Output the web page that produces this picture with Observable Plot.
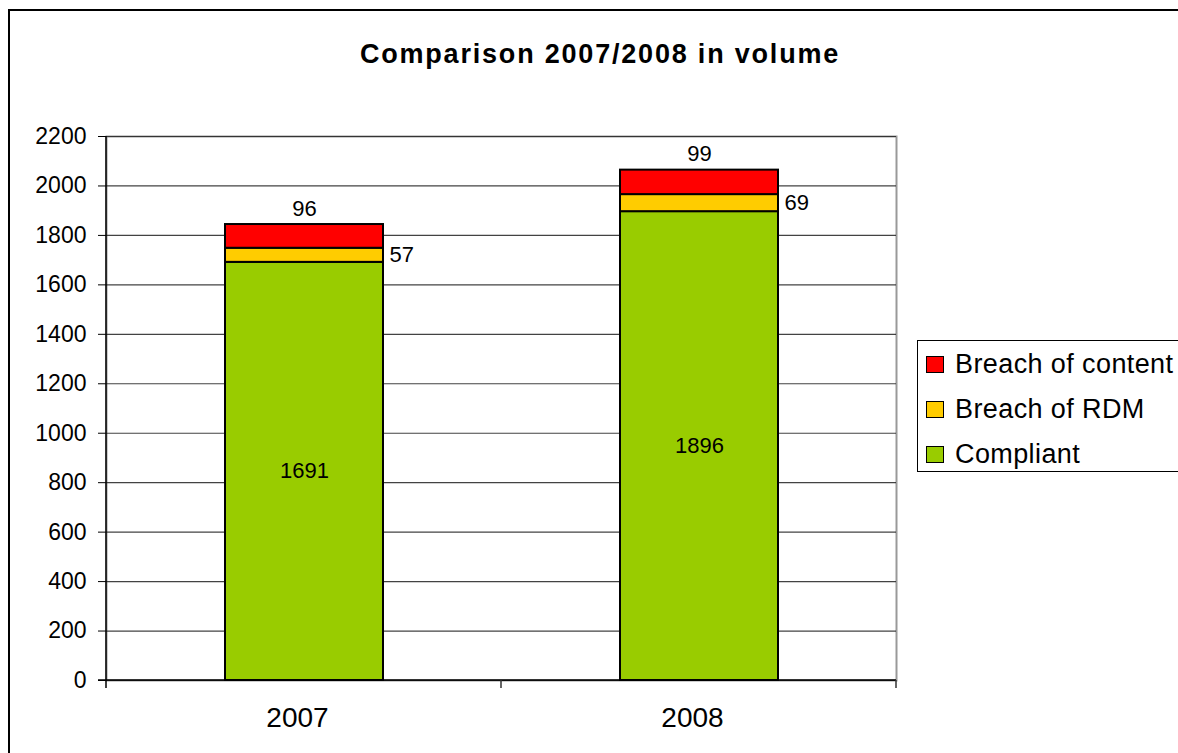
<!DOCTYPE html>
<html>
<head>
<meta charset="utf-8">
<script src="https://cdn.jsdelivr.net/npm/d3@7"></script>
<script src="https://cdn.jsdelivr.net/npm/@observablehq/plot@0.6"></script>
<style>
  html, body { margin: 0; padding: 0; background: #fff; overflow: hidden; }
  #chart { position: relative; width: 1178px; height: 753px; font-family: "Liberation Sans", Arial, sans-serif; }
  #title { position: absolute; left: 20px; width: 1160px; top: 41px; line-height: 27px; text-align: center; font-size: 27px; font-weight: bold; letter-spacing: 1.8px; color: #000; }
  #plot { position: absolute; left: 0; top: 0; }
  #legend { position: absolute; left: 917px; top: 340px; width: 261px; height: 132px; box-sizing: border-box; border: 1.5px solid #000; border-right: none; background: #fff; overflow: hidden; }
  .item { position: absolute; left: 8px; height: 30px; display: flex; align-items: center; font-size: 27px; letter-spacing: 0.4px; color: #000; white-space: nowrap; }
  .swatch { width: 16px; height: 15px; border: 1.5px solid #000; margin-right: 11px; }
</style>
</head>
<body>
<div id="chart">
  <div id="plot"></div>
  <div id="title">Comparison 2007/2008 in volume</div>
  <div id="legend"></div>
</div>
<script>
// Categories and stacked series (bottom to top)
const years = ["2007", "2008"];
const series = ["Compliant", "Breach of RDM", "Breach of content"];
const colors = ["#99CC00", "#FFCC00", "#FF0000"];
const compliant = [1691, 1896];
const breachRDM = [57, 69];
const breachContent = [96, 99];
const yTicks = [0, 200, 400, 600, 800, 1000, 1200, 1400, 1600, 1800, 2000, 2200];

// Layout
const W = 1178, H = 753;
const mL = 106, mR = 282, mT = 136, mB = 73;
const plotW = W - mL - mR;
const step = plotW / years.length;
const padInner = 0.6;
const bandW = step * (1 - padInner);

// Stacked rows built from the series arrays
const valuesBySeries = [compliant, breachRDM, breachContent];
const rows = [];
years.forEach((year, i) => {
  let base = 0;
  series.forEach((s, j) => {
    const v = valuesBySeries[j][i];
    rows.push({year, series: s, value: v, y1: base, y2: base + v, mid: base + v / 2});
    base += v;
  });
});

// Chart-area edge, axis lines and between-category ticks
function axisLines() {
  const g = d3.create("svg:g");
  g.append("path")
    .attr("d", `M9,${H}V10H${W}`)
    .attr("fill", "none").attr("stroke", "#000").attr("stroke-width", 2);
  g.append("line")
    .attr("x1", mL).attr("x2", mL)
    .attr("y1", mT).attr("y2", H - mB + 8)
    .attr("stroke", "#000").attr("stroke-width", 1.5);
  g.append("line")
    .attr("x1", mL - 8).attr("x2", W - mR)
    .attr("y1", H - mB).attr("y2", H - mB)
    .attr("stroke", "#000").attr("stroke-width", 1.5);
  for (let k = 1; k <= years.length; k++) {
    const x = mL + k * step;
    g.append("line")
      .attr("x1", x).attr("x2", x)
      .attr("y1", H - mB).attr("y2", H - mB + 8)
      .attr("stroke", "#333").attr("stroke-width", 1.5);
  }
  return g.node();
}

const chart = Plot.plot({
  width: W,
  height: H,
  marginLeft: mL,
  marginRight: mR,
  marginTop: mT,
  marginBottom: mB,
  style: {fontFamily: "'Liberation Sans', Arial, sans-serif", color: "#000", background: "transparent"},
  x: {domain: years, paddingInner: padInner, paddingOuter: padInner / 2},
  y: {domain: [0, 2200]},
  color: {domain: series, range: colors},
  marks: [
    Plot.frame({stroke: "#999", strokeWidth: 2}),
    Plot.gridY(yTicks, {stroke: "#222", strokeOpacity: 0.85, strokeWidth: 1.2}),
    Plot.axisY(yTicks, {tickSize: 8, tickPadding: 12, fontSize: 23, tickFormat: d => String(d), label: null, style: {letterSpacing: "1px"}}),
    Plot.axisX({tickSize: 0, tickPadding: 27, fontSize: 28, label: null, dx: -7, style: {letterSpacing: "1.2px"}}),
    Plot.barY(rows, {x: "year", y1: "y1", y2: "y2", fill: "series", stroke: "#000", strokeWidth: 2}),
    axisLines,
    // Compliant value centred in its segment
    Plot.text(rows.filter(d => d.series === series[0]), {x: "year", y: "mid", text: d => String(d.value), fontSize: 22}),
    // RDM value to the right of the bar
    Plot.text(rows.filter(d => d.series === series[1]), {x: "year", y: "mid", text: d => String(d.value), fontSize: 22, textAnchor: "start", dx: bandW / 2 + 6}),
    // Content value above the bar
    Plot.text(rows.filter(d => d.series === series[2]), {x: "year", y: "y2", text: d => String(d.value), fontSize: 22, dy: -16})
  ]
});
document.getElementById("plot").appendChild(chart);

// Legend, top entry is the top of the stack
const legend = document.getElementById("legend");
series.slice().reverse().forEach((s, i) => {
  const item = document.createElement("div");
  item.className = "item";
  item.style.top = (8 + i * 45) + "px";
  const sw = document.createElement("div");
  sw.className = "swatch";
  sw.style.background = colors[series.indexOf(s)];
  item.appendChild(sw);
  item.appendChild(document.createTextNode(s));
  legend.appendChild(item);
});
</script>
</body>
</html>
